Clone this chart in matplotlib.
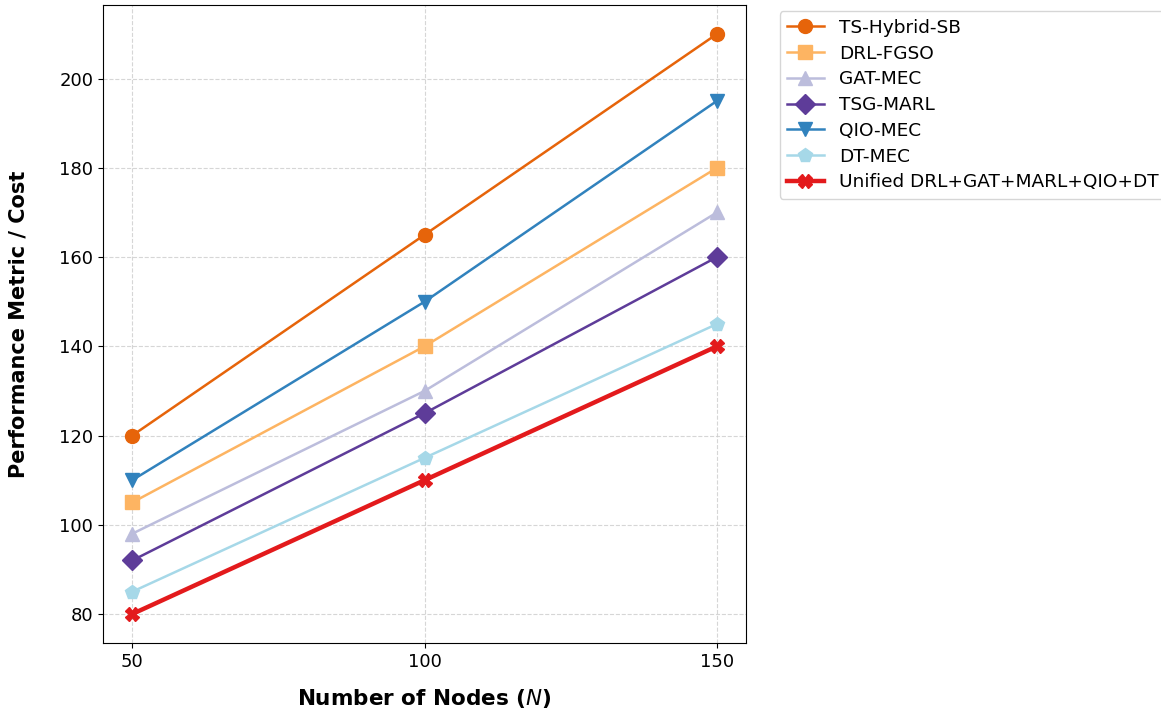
import matplotlib.pyplot as plt

# data

nodes = [50, 100, 150]

ts_hybrid_sb = [120, 165, 210]
drl_fgso = [105, 140, 180]
gat_mec = [98, 130, 170]
tsg_marl = [92, 125, 160]
qio_mec = [110, 150, 195]
dt_mec = [85, 115, 145]
unified = [80, 110, 140]

labels = ['TS-Hybrid-SB', 'DRL-FGSO', 'GAT-MEC', 'TSG-MARL', 'QIO-MEC', 'DT-MEC',
          'Unified DRL+GAT+MARL+QIO+DT']
series = [ts_hybrid_sb, drl_fgso, gat_mec, tsg_marl, qio_mec, dt_mec, unified]
colors = ['#e6640a', '#fdb462', '#bcbddc', '#5e3c99', '#3182bd', '#a6d8e8', '#e31a1c']
markers = ['o', 's', '^', 'D', 'v', 'p', 'X']

# initialize plot

fig = plt.figure(figsize=(11.61, 7.11), dpi=100)
ax = fig.add_axes([0.0887, 0.0956, 0.554, 0.8974])

for values, label, color, marker in zip(series, labels, colors, markers):
    is_main = label.startswith('Unified')
    ax.plot(nodes, values, marker=marker, color=color, label=label,
            linewidth=3.2 if is_main else 1.8, markersize=10,
            zorder=3 if is_main else 2)

# plot formatting

ax.set_xticks(nodes)
ax.tick_params(labelsize=13)
ax.set_xlabel('Number of Nodes ($N$)', fontsize=15.5, fontweight='bold', labelpad=12)
ax.set_ylabel('Performance Metric / Cost', fontsize=15, fontweight='bold', labelpad=22)
ax.grid(True, linestyle='--', color='#cccccc', alpha=0.8)
ax.legend(loc='upper left', bbox_to_anchor=(1.052, 0.99), fontsize=13.3,
          frameon=True, borderaxespad=0, labelspacing=0.42)

fig.savefig('out.png', dpi=100)
